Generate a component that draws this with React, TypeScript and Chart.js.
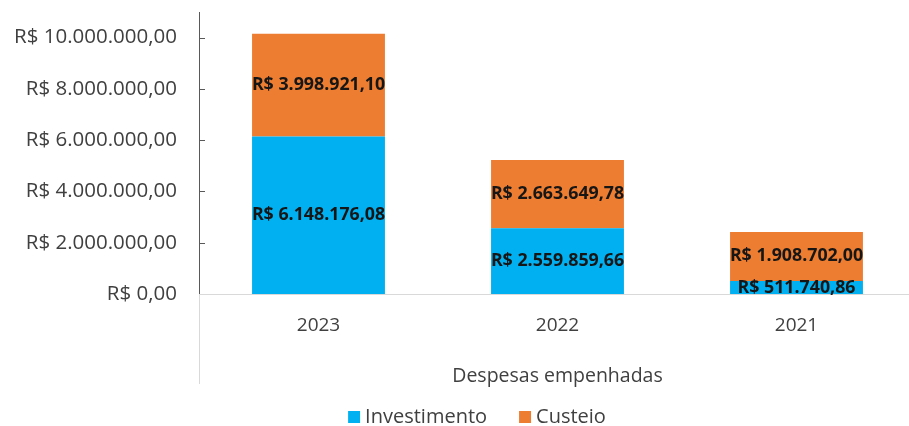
import React, { useEffect, useRef } from 'react';
import { Chart, registerables } from 'chart.js';

Chart.register(...registerables);

const categories = ['2023', '2022', '2021'];
const investimento = [6148176.08, 2559859.66, 511740.86];
const custeio = [3998921.1, 2663649.78, 1908702.0];
const yTicks = [0, 2000000, 4000000, 6000000, 8000000, 10000000];
const seriesNames = ['Investimento', 'Custeio'];
const seriesColors = ['#00B0F0', '#ED7D31'];
const axisTitle = 'Despesas empenhadas';

const FONT = "'Open Sans', 'Noto Sans', sans-serif";
const TEXT = '#404040';

function brl(v: number): string {
  const fixed = Math.abs(v).toFixed(2);
  const [i, d] = fixed.split('.');
  const withDots = i.replace(/\B(?=(\d{3})+(?!\d))/g, '.');
  return `R$ ${withDots},${d}`;
}

const decorPlugin = {
  id: 'decor',
  afterDatasetsDraw(chart: any) {
    const ctx = chart.ctx;
    ctx.save();
    ctx.font = `bold 17.8px ${FONT}`;
    ctx.fillStyle = '#161616';
    ctx.textAlign = 'center';
    ctx.textBaseline = 'middle';
    chart.data.datasets.forEach((ds: any, di: number) => {
      const meta = chart.getDatasetMeta(di);
      meta.data.forEach((el: any, i: number) => {
        const p = el.getProps(['x', 'y', 'base'], true);
        ctx.fillText(brl(ds.data[i]), p.x, (p.y + p.base) / 2);
      });
    });
    ctx.restore();
  },
  afterDraw(chart: any) {
    const ctx = chart.ctx;
    const a = chart.chartArea;
    const ys = chart.scales.y;
    ctx.save();
    ctx.strokeStyle = '#D9D9D9';
    ctx.lineWidth = 1;
    ctx.beginPath();
    ctx.moveTo(Math.round(a.left) + 0.5, a.bottom);
    ctx.lineTo(Math.round(a.left) + 0.5, 384);
    ctx.stroke();
    ctx.strokeStyle = '#595959';
    ctx.beginPath();
    yTicks.forEach((t) => {
      if (t === 0) return;
      const py = Math.round(ys.getPixelForValue(t)) + 0.5;
      ctx.moveTo(a.left, py);
      ctx.lineTo(a.left + 6, py);
    });
    ctx.stroke();
    ctx.font = `20px ${FONT}`;
    ctx.textBaseline = 'middle';
    ctx.textAlign = 'left';
    const box = 12;
    const gapBoxText = 5;
    const gapItems = 32;
    const widths = chart.data.datasets.map((d: any) => box + gapBoxText + ctx.measureText(d.label).width);
    const total = widths.reduce((s: number, w: number) => s + w, 0) + gapItems * (widths.length - 1);
    let x = 477 - total / 2;
    const ly = 417;
    chart.data.datasets.forEach((d: any, i: number) => {
      ctx.fillStyle = d.backgroundColor;
      ctx.fillRect(x, ly - box / 2, box, box);
      ctx.fillStyle = TEXT;
      ctx.fillText(d.label, x + box + gapBoxText, ly);
      x += widths[i] + gapItems;
    });
    ctx.restore();
  },
};

export default function App() {
  const ref = useRef<HTMLCanvasElement | null>(null);

  useEffect(() => {
    if (!ref.current) return;
    const chart = new Chart(ref.current, {
      type: 'bar',
      data: {
        labels: categories,
        datasets: [
          { label: seriesNames[0], data: investimento, backgroundColor: seriesColors[0], borderWidth: 0 },
          { label: seriesNames[1], data: custeio, backgroundColor: seriesColors[1], borderWidth: 0 },
        ],
      },
      options: {
        animation: false,
        responsive: true,
        maintainAspectRatio: false,
        layout: { padding: { top: 12, right: 4, left: 0, bottom: 0 } },
        plugins: { legend: { display: false }, tooltip: { enabled: false } },
        datasets: { bar: { barPercentage: 0.556, categoryPercentage: 1 } },
        scales: {
          x: {
            stacked: true,
            grid: { display: false, drawTicks: false },
            border: { display: true, color: '#D9D9D9', width: 1 },
            ticks: { font: { family: FONT, size: 19 }, color: TEXT, padding: 20 },
            title: {
              display: true,
              text: axisTitle,
              font: { family: FONT, size: 19.5 },
              color: TEXT,
              padding: { top: 0, bottom: 38 },
            },
            afterFit: (s: any) => {
              s.height = 132;
              s.paddingLeft = 0;
              s.paddingRight = 0;
            },
          },
          y: {
            stacked: true,
            min: 0,
            max: 11000000,
            grid: { display: false, drawTicks: false },
            border: { display: true, color: '#595959', width: 1 },
            ticks: {
              font: { family: FONT, size: 20.5 },
              color: TEXT,
              padding: 22,
              callback: (v: any) => brl(Number(v)),
            },
            afterBuildTicks: (s: any) => {
              s.ticks = yTicks.map((v) => ({ value: v }));
            },
            afterFit: (s: any) => {
              s.width = 199;
              s.paddingTop = 0;
              s.paddingBottom = 0;
            },
          },
        },
      },
      plugins: [decorPlugin],
    });
    return () => chart.destroy();
  }, []);

  return (
    <div style={{ position: 'fixed', left: 0, top: 0, width: 909, height: 426, overflow: 'hidden', background: '#fff' }}>
      <div style={{ position: 'relative', width: 920, height: 426 }}>
        <canvas ref={ref} />
      </div>
    </div>
  );
}
